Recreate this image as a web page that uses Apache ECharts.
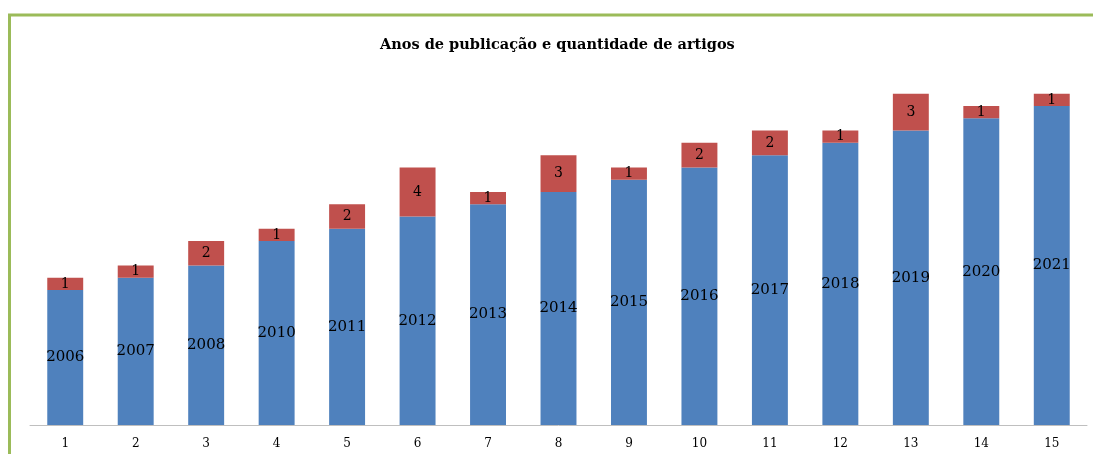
<!DOCTYPE html>
<html>
<head>
<meta charset="utf-8">
<script src="https://cdn.jsdelivr.net/npm/echarts@6/dist/echarts.min.js"></script>
<style>
  html, body { margin: 0; padding: 0; background: #fff; }
  #chart { width: 1093px; height: 454px; }
</style>
</head>
<body>
<div id="chart"></div>
<script>
const categories = ['1', '2', '3', '4', '5', '6', '7', '8', '9', '10', '11', '12', '13', '14', '15'];
const years = [2006, 2007, 2008, 2010, 2011, 2012, 2013, 2014, 2015, 2016, 2017, 2018, 2019, 2020, 2021];
const articles = [1, 1, 2, 1, 2, 4, 1, 3, 1, 2, 2, 1, 3, 1, 1];

const serif = 'DejaVu Serif';
const chart = echarts.init(document.getElementById('chart'));

chart.setOption({
  animation: false,
  backgroundColor: '#fff',
  graphic: [{
    type: 'rect',
    shape: { x: 9.5, y: 15, width: 1200, height: 600 },
    style: { fill: 'none', stroke: '#9BBB59', lineWidth: 3 },
    silent: true
  }],
  title: {
    text: 'Anos de publicação e quantidade de artigos',
    left: 375,
    top: 33,
    textStyle: { fontFamily: serif, fontSize: 14.5, fontWeight: 'bold', color: '#000' }
  },
  grid: { left: 30, right: 6, top: 57, bottom: 29 },
  xAxis: {
    type: 'category',
    data: categories,
    axisLine: { lineStyle: { color: '#BFBFBF', width: 1 } },
    axisTick: { show: false },
    axisLabel: { fontFamily: serif, fontSize: 12, color: '#000', margin: 13 }
  },
  yAxis: {
    type: 'value',
    min: 1995,
    max: 2025,
    show: false,
    splitLine: { show: false }
  },
  series: [{
    name: 'Ano',
    type: 'bar',
    stack: 'total',
    barWidth: '51%',
    data: years,
    itemStyle: { color: '#4F81BD' },
    label: {
      show: true,
      position: 'inside',
      fontFamily: serif,
      fontSize: 15,
      color: '#000'
    }
  }, {
    name: 'Artigos',
    type: 'bar',
    stack: 'total',
    data: articles,
    itemStyle: { color: '#C0504D' },
    label: {
      show: true,
      position: 'inside',
      fontFamily: serif,
      fontSize: 14,
      color: '#000'
    }
  }]
});
</script>
</body>
</html>
